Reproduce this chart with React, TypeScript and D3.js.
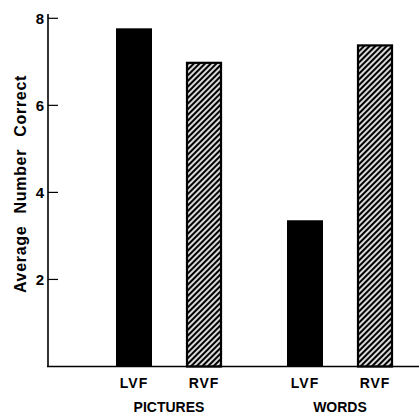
import React from "react";
import * as d3 from "d3";

const groups = ["PICTURES", "WORDS"];
const fields = ["LVF", "RVF"];
const values = [
  [7.77, 7.0],
  [3.36, 7.4],
];
const yTicks = [2, 4, 6, 8];

const W = 419;
const H = 414;

export default function App() {
  const x0 = 48;
  const yScale = d3.scaleLinear().domain([0, 8]).range([366.5, 18.3]);
  const groupScale = d3.scaleBand<string>().domain(groups).range([83.5, 425.5]).padding(0);
  const barScale = d3
    .scaleBand<string>()
    .domain(fields)
    .range([0, groupScale.bandwidth()])
    .paddingInner(0.4857)
    .paddingOuter(0.464);
  const font = "'Liberation Sans', Arial, sans-serif";
  return (
    <svg width={W} height={H} style={{ position: "absolute", left: 0, top: 0, background: "#fff" }}>
      <defs>
        <pattern id="hatch" patternUnits="userSpaceOnUse" width="4" height="4" patternTransform="rotate(-45)">
          <rect width="4" height="4" fill="#fff" />
          <line x1="0" y1="2" x2="4" y2="2" stroke="#000" strokeWidth="2.3" />
        </pattern>
      </defs>
      {groups.map((g, gi) => {
        const gx = groupScale(g)!;
        return (
          <g key={g}>
            {fields.map((f, fi) => {
              const bx = gx + barScale(f)!;
              const v = values[gi][fi];
              const bw = barScale.bandwidth();
              return (
                <g key={f}>
                  <rect
                    x={fi === 0 ? bx : bx + 1}
                    y={fi === 0 ? yScale(v) : yScale(v) + 1}
                    width={fi === 0 ? bw : bw - 2}
                    height={yScale(0) - yScale(v) - (fi === 0 ? 0 : 1)}
                    fill={fi === 0 ? "#000" : "url(#hatch)"}
                    stroke="#000"
                    strokeWidth={fi === 0 ? 0 : 2.2}
                  />
                  <text x={bx + bw / 2} y={387.5} textAnchor="middle" fontFamily={font} fontWeight="bold" fontSize={14} letterSpacing={1}>
                    {f}
                  </text>
                </g>
              );
            })}
            <text
              x={gx + groupScale.bandwidth() / 2}
              y={412}
              textAnchor="middle"
              fontFamily={font}
              fontWeight="bold"
              fontSize={14}
            >
              {g}
            </text>
          </g>
        );
      })}
      {/* axes */}
      <line x1={x0} y1={14} x2={x0} y2={yScale(0)} stroke="#000" strokeWidth={1.6} />
      <line x1={x0 - 1} y1={yScale(0)} x2={419} y2={yScale(0)} stroke="#000" strokeWidth={1.6} />
      {yTicks.map((t) => (
        <g key={t}>
          <line x1={x0} x2={x0 + 10} y1={yScale(t)} y2={yScale(t)} stroke="#000" strokeWidth={1.2} />
          <text x={x0 - 4} y={yScale(t)} dy="0.36em" textAnchor="end" fontFamily={font} fontWeight="bold" fontSize={15}>
            {t}
          </text>
        </g>
      ))}
      <text
        transform={`translate(26,${184}) rotate(-90)`}
        textAnchor="middle"
        fontFamily={font}
        fontWeight="bold"
        fontSize={16}
        letterSpacing={0.7}
        wordSpacing={7}
      >
        Average Number Correct
      </text>
    </svg>
  );
}
